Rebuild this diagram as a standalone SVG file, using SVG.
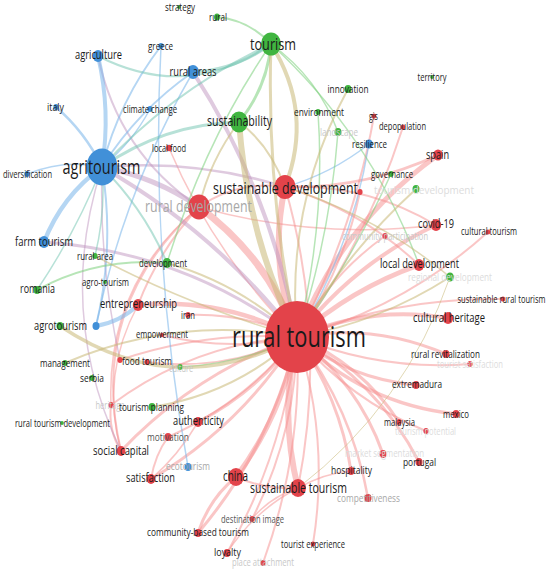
<svg xmlns="http://www.w3.org/2000/svg" width="550" height="570" viewBox="0 0 550 570">
<style>
.e{fill:none;stroke-linecap:round}
.er{stroke:#f58e8e;stroke-opacity:.5}
.eb{stroke:#79b5ea;stroke-opacity:.55}
.eg{stroke:#7ccf7c;stroke-opacity:.55}
.eo{stroke:#c8b877;stroke-opacity:.55}
.et{stroke:#6fc4b0;stroke-opacity:.5}
.ep{stroke:#bf95bf;stroke-opacity:.5}
.nr{fill:#e3434a}
.nb{fill:#4190d8}
.ng{fill:#40b540}
text{font-family:"Open Sans","Liberation Sans",sans-serif;text-anchor:middle;fill:#1a1a1a}
.fa{fill:#a8a8a8}
.fb{fill:#c8c8c8}
.fc{fill:#dcdcdc}
.fd{fill:#555}
</style>
<rect width="550" height="570" fill="#fff"/>
<g id="edges">
<g class="e er">
<path d="M297 337 Q268 264 285 187" stroke-width="6"/>
<path d="M297 337 Q267 257 199 207" stroke-width="7"/>
<path d="M297 337 Q340 225 438 155" stroke-width="5"/>
<path d="M297 337 Q353 264 436 225" stroke-width="4"/>
<path d="M297 337 Q351 289 419 265" stroke-width="5"/>
<path d="M297 337 Q370 305 448 318" stroke-width="4"/>
<path d="M297 337 Q374 323 446 354" stroke-width="3"/>
<path d="M297 337 Q380 371 470 364" stroke-width="2"/>
<path d="M297 337 Q349 379 416 385" stroke-width="3"/>
<path d="M297 337 Q363 404 456 414" stroke-width="3.5"/>
<path d="M297 337 Q361 364 399 422" stroke-width="3"/>
<path d="M297 337 Q350 400 426 431" stroke-width="2"/>
<path d="M297 337 Q358 383 383 454" stroke-width="3"/>
<path d="M297 337 Q377 381 419 462" stroke-width="3"/>
<path d="M297 337 Q340 398 351 471" stroke-width="3"/>
<path d="M297 337 Q279 413 298 488" stroke-width="6"/>
<path d="M297 337 Q352 409 368 498" stroke-width="2.5"/>
<path d="M297 337 Q330 439 313 544" stroke-width="2"/>
<path d="M297 337 Q283 414 236 477" stroke-width="5"/>
<path d="M297 337 Q296 433 252 519" stroke-width="2"/>
<path d="M297 337 Q271 447 198 533" stroke-width="3"/>
<path d="M297 337 Q284 452 227 553" stroke-width="2"/>
<path d="M297 337 Q303 453 263 563" stroke-width="2"/>
<path d="M297 337 Q241 426 151 479" stroke-width="3"/>
<path d="M297 337 Q195 373 121 451" stroke-width="3"/>
<path d="M297 337 Q245 403 168 437" stroke-width="2"/>
<path d="M297 337 Q258 391 198 422" stroke-width="3"/>
<path d="M297 337 Q194 343 111 405" stroke-width="2"/>
<path d="M297 337 Q226 372 147 362" stroke-width="2"/>
<path d="M297 337 Q222 297 138 305" stroke-width="4.5"/>
<path d="M297 337 Q245 313 188 315" stroke-width="2"/>
<path d="M297 337 Q229 352 162 335" stroke-width="2"/>
<path d="M297 337 Q329 276 385 236" stroke-width="2"/>
<path d="M297 337 Q405 307 488 232" stroke-width="2"/>
<path d="M297 337 Q396 297 503 299" stroke-width="2"/>
<path d="M297 337 Q367 240 403 127" stroke-width="2"/>
<path d="M297 337 Q353 233 374 116" stroke-width="2"/>
<path d="M297 337 Q343 271 360 192" stroke-width="2"/>
<path d="M297 337 Q206 331 120 360" stroke-width="2"/>
<path d="M297 337 Q214 255 169 148" stroke-width="1.5"/>
<path d="M285 187 Q365 189 438 155" stroke-width="3"/>
<path d="M285 187 Q366 183 436 225" stroke-width="2"/>
<path d="M285 187 Q361 210 419 265" stroke-width="2"/>
<path d="M285 187 Q328 336 298 488" stroke-width="2"/>
<path d="M285 187 Q238 180 199 207" stroke-width="2"/>
<path d="M199 207 Q159 250 138 305" stroke-width="2"/>
<path d="M199 207 Q316 240 436 225" stroke-width="1.5"/>
<path d="M199 207 Q87 306 121 451" stroke-width="2"/>
<path d="M199 207 Q106 284 111 405" stroke-width="1.5"/>
<path d="M236 477 Q209 499 198 533" stroke-width="3"/>
<path d="M236 477 Q266 490 298 488" stroke-width="2"/>
<path d="M298 488 Q270 497 252 519" stroke-width="1.5"/>
<path d="M298 488 Q255 510 227 553" stroke-width="1.5"/>
<path d="M298 488 Q325 473 351 471" stroke-width="1.5"/>
<path d="M121 451 Q108 430 111 405" stroke-width="2"/>
<path d="M151 479 Q155 455 168 437" stroke-width="2"/>
<path d="M151 479 Q178 456 198 422" stroke-width="1.5"/>
<path d="M121 451 Q100 375 138 305" stroke-width="1.5"/>
</g>
<g class="e ep">
<path d="M102 167 Q155 177 199 207" stroke-width="5"/>
<path d="M102 167 Q217 233 297 337" stroke-width="4"/>
<path d="M102 167 Q196 159 285 187" stroke-width="2.5"/>
<path d="M44 242 Q185 252 297 337" stroke-width="3"/>
<path d="M193 72 Q272 194 297 337" stroke-width="4"/>
<path d="M102 167 Q55 313 121 451" stroke-width="1.5"/>
<path d="M102 167 Q99 265 120 360" stroke-width="1.5"/>
<path d="M98 56 Q118 152 199 207" stroke-width="2"/>
</g>
<g class="e eb">
<path d="M369 144 Q331 174 285 187" stroke-width="1.5"/>
<path d="M369 144 Q352 248 297 337" stroke-width="1.5"/>
<path d="M102 167 Q111 111 98 56" stroke-width="4"/>
<path d="M102 167 Q119 101 161 46" stroke-width="2"/>
<path d="M102 167 Q138 110 193 72" stroke-width="2"/>
<path d="M102 167 Q85 132 56 107" stroke-width="2.5"/>
<path d="M102 167 Q132 143 150 109" stroke-width="1.5"/>
<path d="M102 167 Q64 159 27 174" stroke-width="1.5"/>
<path d="M102 167 Q62 196 44 242" stroke-width="4.5"/>
<path d="M102 167 Q115 247 96 326" stroke-width="2"/>
<path d="M96 326 Q120 322 138 305" stroke-width="4"/>
<path d="M96 326 Q124 191 193 72" stroke-width="1.5"/>
<path d="M161 46 Q150 256 188 467" stroke-width="1.5"/>
</g>
<g class="e et">
<path d="M102 167 Q164 124 239 122" stroke-width="3"/>
<path d="M102 167 Q174 89 271 44" stroke-width="2"/>
<path d="M98 56 Q188 102 271 44" stroke-width="2"/>
<path d="M193 72 Q236 70 271 44" stroke-width="3"/>
<path d="M167 263 Q144 209 102 167" stroke-width="2"/>
<path d="M95 256 Q106 210 102 167" stroke-width="1.5"/>
<path d="M37 290 Q76 232 102 167" stroke-width="1.5"/>
</g>
<g class="e eg">
<path d="M271 44 Q249 20 217 17" stroke-width="2"/>
<path d="M271 44 Q267 88 239 122" stroke-width="3"/>
<path d="M271 44 Q318 78 338 132" stroke-width="1.5"/>
<path d="M271 44 Q372 137 419 265" stroke-width="1.5"/>
<path d="M271 44 Q205 140 167 263" stroke-width="1.5"/>
<path d="M318 112 Q326 226 297 337" stroke-width="1.5"/>
<path d="M338 132 Q330 237 297 337" stroke-width="1.5"/>
<path d="M391 174 Q352 260 297 337" stroke-width="1.5"/>
<path d="M37 290 Q98 257 167 263" stroke-width="2"/>
<path d="M180 367 Q242 364 297 337" stroke-width="1.5"/>
</g>
<g class="e eo">
<path d="M271 44 Q314 112 285 187" stroke-width="4"/>
<path d="M271 44 Q266 192 297 337" stroke-width="3"/>
<path d="M239 122 Q247 235 297 337" stroke-width="6"/>
<path d="M239 122 Q270 145 285 187" stroke-width="2"/>
<path d="M239 122 Q210 160 199 207" stroke-width="2"/>
<path d="M348 89 Q285 205 297 337" stroke-width="2"/>
<path d="M416 189 Q345 254 297 337" stroke-width="2"/>
<path d="M450 277 Q380 322 297 337" stroke-width="2"/>
<path d="M450 277 Q406 405 298 488" stroke-width="1"/>
<path d="M450 277 Q377 216 285 187" stroke-width="1.5"/>
<path d="M167 263 Q241 284 297 337" stroke-width="2"/>
<path d="M95 256 Q192 307 297 337" stroke-width="1.5"/>
<path d="M60 326 Q175 403 297 337" stroke-width="3.5"/>
<path d="M65 363 Q177 315 297 337" stroke-width="2"/>
<path d="M152 407 Q235 394 297 337" stroke-width="2"/>
</g>
</g>
<g id="nodes">
<g id="n-rural-tourism"><ellipse class="nr" cx="297" cy="337" rx="32" ry="36"/><text x="299" y="337" dy=".35em" font-size="29" textLength="134" lengthAdjust="spacingAndGlyphs">rural tourism</text></g>
<g id="n-sustainable-development"><ellipse class="nr" cx="285" cy="187" rx="10.5" ry="12"/><text x="285.5" y="188" dy=".35em" font-size="16.5" textLength="145" lengthAdjust="spacingAndGlyphs">sustainable development</text></g>
<g id="n-rural-development"><ellipse class="nr" cx="199" cy="207" rx="11" ry="12.5"/><text class="fa" x="198.5" y="206" dy=".35em" font-size="16.5" textLength="107" lengthAdjust="spacingAndGlyphs">rural development</text></g>
<g id="n-agritourism"><ellipse class="nb" cx="102" cy="167" rx="15.5" ry="18.5"/><text x="101.5" y="167" dy=".35em" font-size="19.5" textLength="78" lengthAdjust="spacingAndGlyphs">agritourism</text></g>
<g id="n-tourism"><ellipse class="ng" cx="271" cy="44" rx="10" ry="11.5"/><text x="273" y="44" dy=".35em" font-size="16.5" textLength="46" lengthAdjust="spacingAndGlyphs">tourism</text></g>
<g id="n-sustainability"><ellipse class="ng" cx="239" cy="122" rx="9" ry="10.5"/><text x="239.5" y="121" dy=".35em" font-size="14" textLength="65" lengthAdjust="spacingAndGlyphs">sustainability</text></g>
<g id="n-local-food"><ellipse class="nr" cx="169" cy="148" rx="2.8" ry="3.2"/><text x="169" y="148" dy=".35em" font-size="10" textLength="34" lengthAdjust="spacingAndGlyphs">local food</text></g>
<g id="n-gis"><ellipse class="nr" cx="374" cy="116" rx="2.3" ry="2.6"/><text x="373.5" y="116" dy=".35em" font-size="10" textLength="9" lengthAdjust="spacingAndGlyphs">gis</text></g>
<g id="n-depopulation"><ellipse class="nr" cx="403" cy="127" rx="2.3" ry="2.6"/><text x="402.5" y="126" dy=".35em" font-size="10" textLength="47" lengthAdjust="spacingAndGlyphs">depopulation</text></g>
<g id="n-spain"><ellipse class="nr" cx="438" cy="155" rx="4.8" ry="5.5"/><text x="437.5" y="155" dy=".35em" font-size="12.5" textLength="23" lengthAdjust="spacingAndGlyphs">spain</text></g>
<g id="n-covid-19"><ellipse class="nr" cx="436" cy="225" rx="5.2" ry="6"/><text x="436" y="224" dy=".35em" font-size="12.5" textLength="36" lengthAdjust="spacingAndGlyphs">covid-19</text></g>
<g id="n-community-participation"><ellipse class="nr" cx="385" cy="236" rx="2.6" ry="3"/><text class="fb" x="385" y="236" dy=".35em" font-size="10" textLength="86" lengthAdjust="spacingAndGlyphs">community participation</text></g>
<g id="n-cultural-tourism"><ellipse class="nr" cx="488" cy="232" rx="2.3" ry="2.6"/><text x="489" y="231" dy=".35em" font-size="10" textLength="56" lengthAdjust="spacingAndGlyphs">cultural tourism</text></g>
<g id="n-local-development"><ellipse class="nr" cx="419" cy="265" rx="5.2" ry="6"/><text x="419.5" y="264" dy=".35em" font-size="12.5" textLength="79" lengthAdjust="spacingAndGlyphs">local development</text></g>
<g id="n-sustainable-rural-tourism"><ellipse class="nr" cx="503" cy="299" rx="2.3" ry="2.6"/><text x="501.5" y="299" dy=".35em" font-size="10" textLength="88" lengthAdjust="spacingAndGlyphs">sustainable rural tourism</text></g>
<g id="n-cultural-heritage"><ellipse class="nr" cx="448" cy="318" rx="5.2" ry="6"/><text x="449" y="318" dy=".35em" font-size="12.5" textLength="72" lengthAdjust="spacingAndGlyphs">cultural heritage</text></g>
<g id="n-rural-revitalization"><ellipse class="nr" cx="446" cy="354" rx="3.5" ry="4"/><text x="445.5" y="354" dy=".35em" font-size="11" textLength="69" lengthAdjust="spacingAndGlyphs">rural revitalization</text></g>
<g id="n-tourist-satisfaction"><ellipse class="nr" cx="470" cy="364" rx="2.6" ry="3"/><text class="fc" x="470" y="364" dy=".35em" font-size="10" textLength="66" lengthAdjust="spacingAndGlyphs">tourist satisfaction</text></g>
<g id="n-extremadura"><ellipse class="nr" cx="416" cy="385" rx="3.5" ry="4"/><text x="417" y="384" dy=".35em" font-size="11" textLength="50" lengthAdjust="spacingAndGlyphs">extremadura</text></g>
<g id="n-mexico"><ellipse class="nr" cx="456" cy="414" rx="3.5" ry="4"/><text x="456" y="414" dy=".35em" font-size="10.5" textLength="26" lengthAdjust="spacingAndGlyphs">mexico</text></g>
<g id="n-malaysia"><ellipse class="nr" cx="399" cy="422" rx="2.6" ry="3"/><text x="399.5" y="422" dy=".35em" font-size="10.5" textLength="31" lengthAdjust="spacingAndGlyphs">malaysia</text></g>
<g id="n-tourism-potential"><ellipse class="nr" cx="426" cy="431" rx="2.6" ry="3"/><text class="fc" x="425.5" y="431" dy=".35em" font-size="10" textLength="61" lengthAdjust="spacingAndGlyphs">tourism potential</text></g>
<g id="n-market-segmentation"><ellipse class="nr" cx="383" cy="454" rx="3.5" ry="4"/><text class="fc" x="384.5" y="453" dy=".35em" font-size="10" textLength="79" lengthAdjust="spacingAndGlyphs">market segmentation</text></g>
<g id="n-portugal"><ellipse class="nr" cx="419" cy="462" rx="3.5" ry="4"/><text x="419.5" y="462" dy=".35em" font-size="11" textLength="33" lengthAdjust="spacingAndGlyphs">portugal</text></g>
<g id="n-hospitality"><ellipse class="nr" cx="351" cy="471" rx="3.5" ry="4"/><text x="351.5" y="470" dy=".35em" font-size="11" textLength="41" lengthAdjust="spacingAndGlyphs">hospitality</text></g>
<g id="n-sustainable-tourism"><ellipse class="nr" cx="298" cy="488" rx="8" ry="9"/><text x="298.5" y="488" dy=".35em" font-size="14" textLength="97" lengthAdjust="spacingAndGlyphs">sustainable tourism</text></g>
<g id="n-competitiveness"><ellipse class="nr" cx="368" cy="498" rx="3.5" ry="4"/><text class="fa" x="368.5" y="498" dy=".35em" font-size="11" textLength="63" lengthAdjust="spacingAndGlyphs">competitiveness</text></g>
<g id="n-tourist-experience"><ellipse class="nr" cx="313" cy="544" rx="2.3" ry="2.6"/><text x="313" y="544" dy=".35em" font-size="10" textLength="64" lengthAdjust="spacingAndGlyphs">tourist experience</text></g>
<g id="n-china"><ellipse class="nr" cx="236" cy="477" rx="8" ry="9"/><text x="235.5" y="476" dy=".35em" font-size="14" textLength="25" lengthAdjust="spacingAndGlyphs">china</text></g>
<g id="n-destination-image"><ellipse class="nr" cx="252" cy="519" rx="2.6" ry="3"/><text class="fd" x="252.5" y="519" dy=".35em" font-size="10" textLength="63" lengthAdjust="spacingAndGlyphs">destination image</text></g>
<g id="n-community-based-tourism"><ellipse class="nr" cx="198" cy="533" rx="3.5" ry="4"/><text x="198" y="532" dy=".35em" font-size="11" textLength="102" lengthAdjust="spacingAndGlyphs">community-based tourism</text></g>
<g id="n-loyalty"><ellipse class="nr" cx="227" cy="553" rx="3.5" ry="4"/><text x="227.5" y="552" dy=".35em" font-size="11.5" textLength="27" lengthAdjust="spacingAndGlyphs">loyalty</text></g>
<g id="n-place-attachment"><ellipse class="nr" cx="263" cy="563" rx="2.6" ry="3"/><text class="fb" x="263" y="562" dy=".35em" font-size="10" textLength="62" lengthAdjust="spacingAndGlyphs">place attachment</text></g>
<g id="n-satisfaction"><ellipse class="nr" cx="151" cy="479" rx="4.4" ry="5"/><text x="150.5" y="478" dy=".35em" font-size="12.5" textLength="49" lengthAdjust="spacingAndGlyphs">satisfaction</text></g>
<g id="n-social-capital"><ellipse class="nr" cx="121" cy="451" rx="4.4" ry="5"/><text x="121" y="451" dy=".35em" font-size="12.5" textLength="56" lengthAdjust="spacingAndGlyphs">social capital</text></g>
<g id="n-motivation"><ellipse class="nr" cx="168" cy="437" rx="3.5" ry="4"/><text class="fd" x="168" y="437" dy=".35em" font-size="11" textLength="42" lengthAdjust="spacingAndGlyphs">motivation</text></g>
<g id="n-authenticity"><ellipse class="nr" cx="198" cy="422" rx="4.4" ry="5"/><text x="198.5" y="421" dy=".35em" font-size="12.5" textLength="51" lengthAdjust="spacingAndGlyphs">authenticity</text></g>
<g id="n-heritage"><ellipse class="nr" cx="111" cy="405" rx="2.6" ry="3"/><text class="fb" x="110" y="405" dy=".35em" font-size="10" textLength="29" lengthAdjust="spacingAndGlyphs">heritage</text></g>
<g id="n-food-tourism"><ellipse class="nr" cx="120" cy="360" rx="2.6" ry="3"/><ellipse class="nr" cx="147" cy="362" rx="2.6" ry="3"/><text x="147" y="361" dy=".35em" font-size="11" textLength="50" lengthAdjust="spacingAndGlyphs">food tourism</text></g>
<g id="n-empowerment"><ellipse class="nr" cx="162" cy="335" rx="2" ry="2.3"/><text x="162" y="334" dy=".35em" font-size="10" textLength="52" lengthAdjust="spacingAndGlyphs">empowerment</text></g>
<g id="n-iran"><ellipse class="nr" cx="188" cy="315" rx="2.6" ry="3"/><text x="188" y="315" dy=".35em" font-size="10" textLength="14" lengthAdjust="spacingAndGlyphs">iran</text></g>
<g id="n-entrepreneurship"><ellipse class="nr" cx="138" cy="305" rx="5.2" ry="6"/><text x="138.5" y="304" dy=".35em" font-size="12.5" textLength="77" lengthAdjust="spacingAndGlyphs">entrepreneurship</text></g>
<g id="n-red-192"><ellipse class="nr" cx="360" cy="192" rx="2.6" ry="3"/></g>
<g id="n-agriculture"><ellipse class="nb" cx="98" cy="56" rx="5.2" ry="6"/><text x="98.5" y="55" dy=".35em" font-size="12.5" textLength="47" lengthAdjust="spacingAndGlyphs">agriculture</text></g>
<g id="n-greece"><ellipse class="nb" cx="161" cy="46" rx="2.6" ry="3"/><text x="160.5" y="46" dy=".35em" font-size="10.5" textLength="25" lengthAdjust="spacingAndGlyphs">greece</text></g>
<g id="n-rural-areas"><ellipse class="nb" cx="193" cy="72" rx="6" ry="7"/><text x="193" y="72" dy=".35em" font-size="12.5" textLength="47" lengthAdjust="spacingAndGlyphs">rural areas</text></g>
<g id="n-italy"><ellipse class="nb" cx="56" cy="107" rx="2.6" ry="3"/><text x="55.5" y="107" dy=".35em" font-size="10.5" textLength="17" lengthAdjust="spacingAndGlyphs">italy</text></g>
<g id="n-climate-change"><ellipse class="nb" cx="150" cy="109" rx="2.6" ry="3"/><text x="150" y="109" dy=".35em" font-size="10" textLength="54" lengthAdjust="spacingAndGlyphs">climate change</text></g>
<g id="n-diversification"><ellipse class="nb" cx="27" cy="174" rx="2.6" ry="3"/><text x="27.5" y="174" dy=".35em" font-size="10" textLength="49" lengthAdjust="spacingAndGlyphs">diversification</text></g>
<g id="n-farm-tourism"><ellipse class="nb" cx="44" cy="242" rx="5.2" ry="6"/><text x="44" y="242" dy=".35em" font-size="12.5" textLength="58" lengthAdjust="spacingAndGlyphs">farm tourism</text></g>
<g id="n-resilience"><ellipse class="nb" cx="369" cy="144" rx="3.9" ry="4.5"/><text x="369.5" y="144" dy=".35em" font-size="10.5" textLength="35" lengthAdjust="spacingAndGlyphs">resilience</text></g>
<g id="n-blue-326"><ellipse class="nb" cx="96" cy="326" rx="3.5" ry="4"/></g>
<g id="n-ecotourism"><ellipse class="nb" cx="188" cy="467" rx="3.5" ry="4"/><text class="fa" x="188" y="466" dy=".35em" font-size="11" textLength="44" lengthAdjust="spacingAndGlyphs">ecotourism</text></g>
<g id="n-strategy"><ellipse class="ng" cx="179" cy="7" rx="1.8" ry="2"/><text x="180" y="7" dy=".35em" font-size="10" textLength="30" lengthAdjust="spacingAndGlyphs">strategy</text></g>
<g id="n-rural"><ellipse class="ng" cx="217" cy="17" rx="3" ry="3.5"/><text x="218" y="17" dy=".35em" font-size="10" textLength="18" lengthAdjust="spacingAndGlyphs">rural</text></g>
<g id="n-innovation"><ellipse class="ng" cx="348" cy="89" rx="3.5" ry="4"/><text x="348" y="89" dy=".35em" font-size="11" textLength="41" lengthAdjust="spacingAndGlyphs">innovation</text></g>
<g id="n-environment"><ellipse class="ng" cx="318" cy="112" rx="2.6" ry="3"/><text x="319" y="112" dy=".35em" font-size="11" textLength="50" lengthAdjust="spacingAndGlyphs">environment</text></g>
<g id="n-landscape"><ellipse class="ng" cx="338" cy="132" rx="3.5" ry="4"/><text class="fb" x="339" y="132" dy=".35em" font-size="10.5" textLength="38" lengthAdjust="spacingAndGlyphs">landscape</text></g>
<g id="n-territory"><ellipse class="ng" cx="432" cy="77" rx="1.8" ry="2"/><text x="432" y="77" dy=".35em" font-size="10" textLength="29" lengthAdjust="spacingAndGlyphs">territory</text></g>
<g id="n-governance"><ellipse class="ng" cx="391" cy="174" rx="2.6" ry="3"/><text x="392" y="174" dy=".35em" font-size="10" textLength="42" lengthAdjust="spacingAndGlyphs">governance</text></g>
<g id="n-tourism-development"><ellipse class="ng" cx="416" cy="189" rx="3.5" ry="4"/><text class="fc" x="424" y="190" dy=".35em" font-size="10" textLength="100" lengthAdjust="spacingAndGlyphs">tourism development</text></g>
<g id="n-development"><ellipse class="ng" cx="167" cy="263" rx="4.4" ry="5"/><text x="163" y="263" dy=".35em" font-size="11.5" textLength="48" lengthAdjust="spacingAndGlyphs">development</text></g>
<g id="n-rural-area"><ellipse class="ng" cx="95" cy="256" rx="2.6" ry="3"/><text x="95" y="256" dy=".35em" font-size="10.5" textLength="36" lengthAdjust="spacingAndGlyphs">rural area</text></g>
<g id="n-agro-tourism"><ellipse class="ng" cx="105" cy="282" rx="1.8" ry="2"/><text x="105.5" y="282" dy=".35em" font-size="10" textLength="47" lengthAdjust="spacingAndGlyphs">agro-tourism</text></g>
<g id="n-romania"><ellipse class="ng" cx="37" cy="290" rx="3.5" ry="4"/><text x="37.5" y="289" dy=".35em" font-size="12" textLength="35" lengthAdjust="spacingAndGlyphs">romania</text></g>
<g id="n-agrotourism"><ellipse class="ng" cx="60" cy="326" rx="3.5" ry="4"/><text x="60.5" y="326" dy=".35em" font-size="12" textLength="53" lengthAdjust="spacingAndGlyphs">agrotourism</text></g>
<g id="n-management"><ellipse class="ng" cx="65" cy="363" rx="2.6" ry="3"/><text x="65" y="363" dy=".35em" font-size="11" textLength="50" lengthAdjust="spacingAndGlyphs">management</text></g>
<g id="n-serbia"><ellipse class="ng" cx="92" cy="378" rx="2.6" ry="3"/><text x="92" y="378" dy=".35em" font-size="10" textLength="24" lengthAdjust="spacingAndGlyphs">serbia</text></g>
<g id="n-culture"><ellipse class="ng" cx="180" cy="367" rx="2.6" ry="3"/><text class="fb" x="181" y="368" dy=".35em" font-size="10" textLength="24" lengthAdjust="spacingAndGlyphs">culture</text></g>
<g id="n-tourism-planning"><ellipse class="ng" cx="152" cy="407" rx="3.5" ry="4"/><text x="151.5" y="407" dy=".35em" font-size="11" textLength="65" lengthAdjust="spacingAndGlyphs">tourism planning</text></g>
<g id="n-rural-tourism-development"><ellipse class="ng" cx="62" cy="423" rx="1.8" ry="2"/><text x="62.5" y="423" dy=".35em" font-size="10" textLength="95" lengthAdjust="spacingAndGlyphs">rural tourism development</text></g>
<g id="n-regional-development"><ellipse class="ng" cx="450" cy="277" rx="3.9" ry="4.5"/><text class="fc" x="450" y="277" dy=".35em" font-size="11" textLength="84" lengthAdjust="spacingAndGlyphs">regional development</text></g>
</g>
</svg>
